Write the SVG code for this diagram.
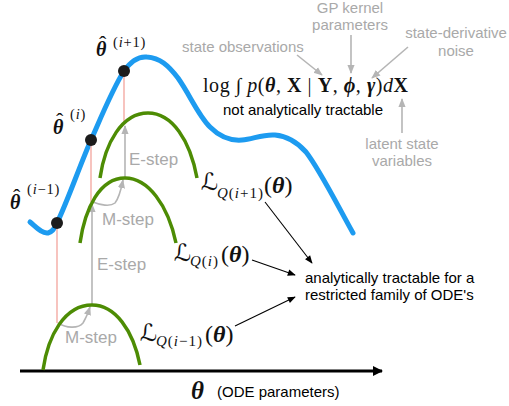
<svg xmlns="http://www.w3.org/2000/svg" width="509" height="406" viewBox="0 0 509 406">
<defs>
<style>
.blue{fill:none;stroke:#1d9bf0;stroke-width:5;stroke-linecap:round}
.green{fill:none;stroke:#4d8c04;stroke-width:3.5;stroke-linecap:butt}
.red{stroke:#f3a49c;stroke-width:1.3}
.garr{fill:none;stroke:#b5b5b5;stroke-width:1.6}
.barr{fill:none;stroke:#000;stroke-width:1.1}
.dot{fill:#1c1c1c}
.gtxt{font-family:"Liberation Sans",Arial,sans-serif;font-size:15px;fill:#a9a9a9}
.step{font-family:"Liberation Sans",Arial,sans-serif;font-size:17px;fill:#a9a9a9}
.btxt{font-family:"Liberation Sans",Arial,sans-serif;font-size:15px;fill:#000}
.m{font-family:"Liberation Serif","DejaVu Serif",serif;fill:#111}
.bi{font-weight:bold;font-style:italic}
.it{font-style:italic}
.bd{font-weight:bold}
.sc{font-family:"DejaVu Serif","DejaVu Sans",serif;fill:#111}
.sup{font-size:14.5px;letter-spacing:0.8px}
.sub{font-size:15px;letter-spacing:1px}
</style>
<marker id="ag" viewBox="0 0 10 10" refX="9" refY="5" markerWidth="9" markerHeight="9" orient="auto" markerUnits="userSpaceOnUse"><path d="M0,1 L10,5 L0,9 z" fill="#b5b5b5"/></marker>
<marker id="ab" viewBox="0 0 10 10" refX="9" refY="5" markerWidth="9" markerHeight="8" orient="auto" markerUnits="userSpaceOnUse"><path d="M0,1 L10,5 L0,9 z" fill="#000"/></marker>
<marker id="ax" viewBox="0 0 10 10" refX="9" refY="5" markerWidth="13" markerHeight="10" orient="auto" markerUnits="userSpaceOnUse"><path d="M0,0 L10,5 L0,10 z" fill="#000"/></marker>
</defs>
<rect width="509" height="406" fill="#fff"/>

<g id="objective-curve">
<path class="blue" d="M30,222 C36,227 42,234 48,233 C52,232 55,228 57,223 C68,200 80,165 91,140 C102,115 113,88 124,71 C131,61 138,56 147,57 C160,58 168,65 178,78 C190,95 198,115 210,127 C220,137 230,141 242,140 C253,139 263,134 275,135 C287,136 297,142 306,152 C320,170 340,210 353,233"/>
</g>

<g id="connectors">
<line class="red" x1="57" y1="223" x2="57" y2="323"/>
<line class="red" x1="91" y1="140" x2="91" y2="202"/>
<line class="red" x1="124" y1="71" x2="124" y2="124"/>
<line class="garr" x1="92" y1="305" x2="92" y2="204" marker-end="url(#ag)"/>
<line class="garr" x1="125" y1="178" x2="125" y2="126" marker-end="url(#ag)"/>
<path class="garr" d="M58,323 C66,328 78,329 83,323 C86,318 88,313 90,307" marker-end="url(#ag)"/>
<path class="garr" d="M93,202 C100,205 110,207 115,203 C119,198 121,190 123,180" marker-end="url(#ag)"/>
<line class="garr" x1="297" y1="55" x2="322" y2="75" marker-end="url(#ag)"/>
<line class="garr" x1="351" y1="35" x2="351" y2="73" marker-end="url(#ag)"/>
<line class="garr" x1="408" y1="47" x2="372" y2="78" marker-end="url(#ag)"/>
<line class="garr" x1="402" y1="133" x2="402" y2="99" marker-end="url(#ag)"/>
<line class="barr" x1="265" y1="202" x2="312" y2="263" marker-end="url(#ab)"/>
<line class="barr" x1="252" y1="260" x2="295" y2="275" marker-end="url(#ab)"/>
<line class="barr" x1="235" y1="326" x2="295" y2="297" marker-end="url(#ab)"/>
<line x1="20" y1="371" x2="382" y2="371" stroke="#000" stroke-width="3.2" marker-end="url(#ax)"/>
</g>

<g id="bound-i-1">
<path class="green" d="M43,370 C48,335 65,305 92,305 C115,305 133,330 140,365"/>
</g>
<g id="bound-i">
<path class="green" d="M80,243 C85,208 100,178 125,178 C148,178 168,205 176,243"/>
</g>
<g id="bound-i1">
<path class="green" d="M100,178 C105,143 122,113 148,113 C172,113 190,140 197,178"/>
</g>

<g id="theta-i-1">
<circle class="dot" cx="57" cy="223" r="6"/>
<text class="m bi" x="10" y="209" font-size="20">θ</text>
<text class="m" x="13" y="204" font-size="22">ˆ</text>
<text class="m sup" x="27" y="194">(<tspan class="it">i</tspan>−1)</text>
</g>
<g id="theta-i">
<circle class="dot" cx="91" cy="140" r="6"/>
<text class="m bi" x="53" y="134" font-size="20">θ</text>
<text class="m" x="56" y="128" font-size="22">ˆ</text>
<text class="m sup" x="70" y="119">(<tspan class="it">i</tspan>)</text>
</g>
<g id="theta-i1">
<circle class="dot" cx="124" cy="71" r="6"/>
<text class="m bi" x="96" y="56" font-size="20">θ</text>
<text class="m" x="99" y="51" font-size="22">ˆ</text>
<text class="m sup" x="113" y="47">(<tspan class="it">i</tspan>+1)</text>
</g>

<g id="steps">
<text class="step" x="65" y="343">M-step</text>
<text class="step" x="97" y="270">E-step</text>
<text class="step" x="102" y="225">M-step</text>
<text class="step" x="129" y="165">E-step</text>
</g>

<g id="label-L1">
<text class="sc" x="201" y="190" font-size="24">ℒ</text>
<text class="m sub" x="217" y="198"><tspan class="it">Q</tspan>(<tspan class="it">i</tspan>+1)</text>
<text class="m" x="264" y="193" font-size="24">(<tspan class="bi">θ</tspan>)</text>
</g>
<g id="label-L2">
<text class="sc" x="174" y="261" font-size="24">ℒ</text>
<text class="m sub" x="190" y="266"><tspan class="it">Q</tspan>(<tspan class="it">i</tspan>)</text>
<text class="m" x="221" y="262" font-size="24">(<tspan class="bi">θ</tspan>)</text>
</g>
<g id="label-L3">
<text class="sc" x="140" y="341" font-size="24">ℒ</text>
<text class="m sub" x="156" y="346"><tspan class="it">Q</tspan>(<tspan class="it">i</tspan>−1)</text>
<text class="m" x="205" y="342" font-size="24">(<tspan class="bi">θ</tspan>)</text>
</g>

<g id="formula">
<text class="m" x="203" y="92" font-size="20" textLength="205" lengthAdjust="spacing">log ∫ <tspan class="it">p</tspan>(<tspan class="bi">θ</tspan>, <tspan class="bd">X</tspan> | <tspan class="bd">Y</tspan>, <tspan class="bi">ϕ</tspan>, <tspan class="bi">γ</tspan>)<tspan class="it">d</tspan><tspan class="bd">X</tspan></text>
<text class="btxt" x="303" y="115" text-anchor="middle">not analytically tractable</text>
</g>

<g id="annotations">
<text class="gtxt" x="182" y="52">state observations</text>
<text class="gtxt" x="350" y="13" text-anchor="middle">GP kernel</text>
<text class="gtxt" x="350" y="30" text-anchor="middle">parameters</text>
<text class="gtxt" x="456" y="38" text-anchor="middle">state-derivative</text>
<text class="gtxt" x="456" y="56" text-anchor="middle">noise</text>
<text class="gtxt" x="402" y="149" text-anchor="middle">latent state</text>
<text class="gtxt" x="402" y="166" text-anchor="middle">variables</text>
</g>

<g id="tractable-note">
<text class="btxt" x="305" y="283">analytically tractable for a</text>
<text class="btxt" x="305" y="300">restricted family of ODE's</text>
</g>

<g id="axis-label">
<text class="m bi" x="191" y="399" font-size="25">θ</text>
<text class="btxt" x="217" y="397">(ODE parameters)</text>
</g>
</svg>
